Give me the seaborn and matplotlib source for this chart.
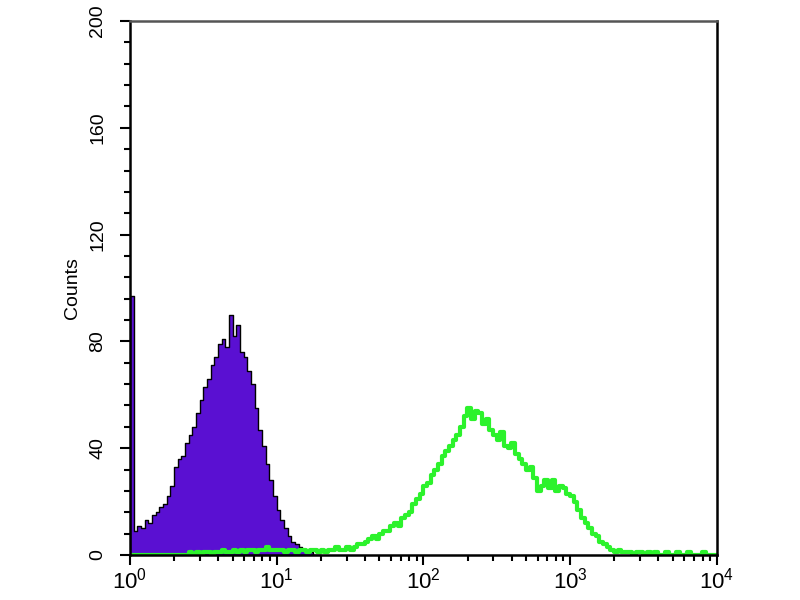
import numpy as np
import pandas as pd
import matplotlib
matplotlib.use("Agg")
import matplotlib.pyplot as plt
import seaborn as sns
from matplotlib.ticker import MultipleLocator, FixedLocator

# histogram channels, 40 per decade, in log10 units of fluorescence
bin_width = 0.025

# control (filled purple), starts at 10^0
control_counts = [97, 9, 11, 10, 13, 12, 15, 16, 18, 19,
                  22, 26, 33, 36, 37, 42, 45, 48, 53, 58,
                  63, 66, 71, 74, 79, 81, 78, 90, 82, 86,
                  76, 74, 69, 64, 55, 47, 41, 34, 28, 22,
                  17, 13, 10, 7, 5, 4, 3, 2, 1, 1,
                  0, 0]

# stained sample (green outline), 10^0 .. 10^4
sample_counts = [0, 0, 0, 0, 0, 0, 0, 0, 0, 0,
                 0, 0, 0, 0, 0, 0, 1, 0, 1, 0,
                 1, 1, 0, 1, 1, 2, 1, 1, 2, 1,
                 2, 1, 2, 2, 1, 2, 2, 3, 2, 2,
                 2, 2, 1, 2, 2, 1, 2, 2, 1, 2,
                 2, 1, 2, 1, 2, 2, 3, 2, 2, 3,
                 2, 3, 4, 4, 5, 6, 7, 6, 8, 9,
                 9, 11, 12, 11, 14, 15, 16, 19, 21, 23,
                 26, 27, 30, 32, 34, 37, 39, 41, 43, 45,
                 48, 52, 55, 51, 54, 53, 49, 51, 47, 45,
                 43, 46, 41, 40, 42, 38, 36, 34, 32, 33,
                 29, 24, 26, 28, 25, 28, 24, 26, 25, 23,
                 22, 20, 17, 14, 12, 10, 8, 7, 5, 4,
                 3, 2, 1, 2, 1, 1, 1, 0, 1, 1,
                 0, 1, 0, 1, 0, 0, 1, 0, 0, 1,
                 0, 0, 1, 0, 0, 0, 1, 0, 0, 0]

decades = [0, 1, 2, 3, 4]
y_ticks = [0, 40, 80, 120, 160, 200]

sns.set_style("ticks")
plt.rcParams['font.family'] = ['Liberation Sans', 'DejaVu Sans']
plt.rcParams['mathtext.fontset'] = 'custom'
plt.rcParams['mathtext.rm'] = 'Liberation Sans'
plt.rcParams['mathtext.it'] = 'Liberation Sans'

fig = plt.figure(figsize=(8, 6), dpi=100)
ax = fig.add_axes([0.1625, 0.075, 0.7335, 0.89])

c_edges = (np.arange(len(control_counts) + 1) * bin_width).tolist()
control = pd.DataFrame({"log_fl": np.array(c_edges[:-1]) + bin_width / 2,
                        "count": control_counts})
sns.histplot(data=control, x="log_fl", weights="count", bins=c_edges,
             element="step", fill=True, color="#5a10d2", edgecolor="black",
             linewidth=1.0, alpha=1.0, ax=ax)

s_edges = (np.arange(len(sample_counts) + 1) * bin_width).tolist()
sample = pd.DataFrame({"log_fl": np.array(s_edges[:-1]) + bin_width / 2,
                       "count": sample_counts})
sns.histplot(data=sample, x="log_fl", weights="count", bins=s_edges,
             element="step", fill=False, color="#2cf22c", linewidth=3, ax=ax)

ax.set_xlim(0, 4)
ax.set_ylim(0, 200)

ax.set_xticks(decades)
ax.set_xticklabels([f"$10^{{{d}}}$" for d in decades], fontsize=16, color="black")
minor = [d + np.log10(k) for d in decades[:-1] for k in range(2, 10)]
ax.xaxis.set_minor_locator(FixedLocator(minor))

ax.set_yticks(y_ticks)
ax.set_yticklabels([str(v) for v in y_ticks], rotation=90, va="center",
                   fontsize=14, color="black")
ax.yaxis.set_minor_locator(MultipleLocator(8))

ax.tick_params(axis="both", which="major", direction="out", length=7, width=1.5, color="black")
ax.tick_params(axis="both", which="minor", direction="out", length=4, width=1.5, color="black")
ax.tick_params(axis="x", pad=2)
ax.tick_params(axis="y", pad=10)

for side in ["left", "right", "top", "bottom"]:
    ax.spines[side].set_visible(True)
    ax.spines[side].set_linewidth(1.8)
    ax.spines[side].set_color("black")
ax.spines["top"].set_color("#555555")

ax.set_xlabel("")
ax.set_ylabel("Counts", fontsize=14, color="black", labelpad=6)

fig.savefig("out.png", dpi=100)
